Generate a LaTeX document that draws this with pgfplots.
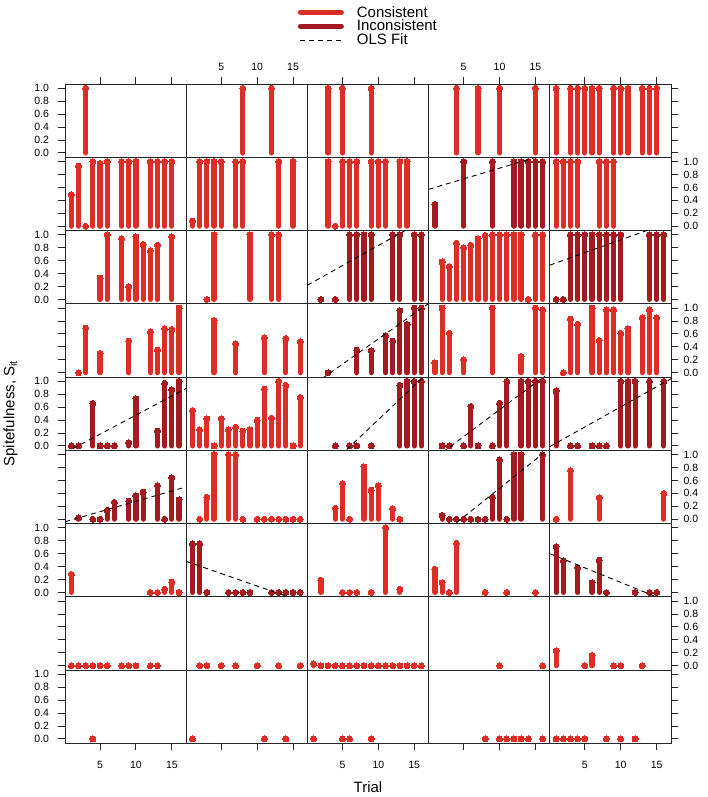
\documentclass[border=0pt]{standalone}
\usepackage{fontspec}
\setmainfont{Liberation Sans}
\usepackage{pgfplots}
\pgfplotsset{compat=1.18}
\definecolor{cons}{RGB}{222,45,38}
\definecolor{incons}{RGB}{163,26,32}
\def\cA{65}\def\cB{186.2}\def\cC{307.4}\def\cD{428.6}\def\cE{549.8}
\def\rA{639.75}\def\rB{566.5}\def\rC{493.25}\def\rD{420}\def\rE{346.75}\def\rF{273.5}\def\rG{200.25}\def\rH{127}\def\rI{53.75}
\pgfplotsset{
  panel/.style={scale only axis, width=121.2pt, height=73.25pt, anchor=south west,
    xmin=0.12, xmax=17, ymin=-0.0667, ymax=1.0667, xtick=\empty, ytick=\empty,
    axis line style={draw=black!85, line width=0.9pt},
    tick style={draw=black!85, line width=0.9pt}, major tick length=7pt, tick align=outside,
    ticklabel style={font=\fontsize{10.5}{12}\selectfont},
    /pgf/number format/assume math mode=true, clip mode=individual},
  xT/.style={xtick={5,10,15}, xtick pos=right, xticklabel pos=right, xticklabel style={yshift=3pt}},
  xt/.style={xtick={5,10,15}, xtick pos=right, xticklabels={}},
  xB/.style={xtick={5,10,15}, xtick pos=left, xticklabel pos=left, xticklabel style={yshift=-7.5pt}},
  xb/.style={xtick={5,10,15}, xtick pos=left, xticklabels={}},
  yL/.style={ytick={0,0.2,0.4,0.6,0.8,1}, ytick pos=left, yticklabel pos=left,
    yticklabel style={xshift=-5.5pt, /pgf/number format/fixed, /pgf/number format/fixed zerofill, /pgf/number format/precision=1}},
  yl/.style={ytick={0,0.2,0.4,0.6,0.8,1}, ytick pos=left, yticklabels={}},
  yR/.style={ytick={0,0.2,0.4,0.6,0.8,1}, ytick pos=right, yticklabel pos=right,
    yticklabel style={xshift=2pt, /pgf/number format/fixed, /pgf/number format/fixed zerofill, /pgf/number format/precision=1}},
  yr/.style={ytick={0,0.2,0.4,0.6,0.8,1}, ytick pos=right, yticklabels={}},
  C/.style={ycomb, color=cons, line width=5.2pt, line cap=round, mark=*, mark size=3pt, mark options={line width=0pt, fill=cons}},
  I/.style={ycomb, color=incons, line width=5.2pt, line cap=round, mark=*, mark size=3pt, mark options={line width=0pt, fill=incons}},
  O/.style={black, no marks, line width=0.9pt, dash pattern=on 5pt off 4pt},
}
\newcommand\pan[3]{\begin{axis}[panel, at={(#1pt,#2pt)}, #3]}
\begin{document}
\begin{tikzpicture}
\useasboundingbox (0,0) rectangle (707pt,797pt);
% ---------------- Row 1
\pan{\cA}{\rA}{xt,yL}
\addplot[C] coordinates {(3,1)};
\end{axis}
\pan{\cB}{\rA}{xT}
\addplot[C] coordinates {(8,1)(12,1)};
\end{axis}
\pan{\cC}{\rA}{xt, legend image code/.code={\draw[#1] (0pt,0pt) -- (41pt,0pt); \path (52pt,0pt);},
  legend style={at={(axis description cs:-0.105,2.12)}, anchor=north west, draw=none, fill=none,
  font=\fontsize{15}{15}\selectfont, cells={anchor=west}, row sep=-2.5pt}}
\addlegendimage{cons, line width=5pt, line cap=round}
\addlegendentry{Consistent}
\addlegendimage{incons, line width=5pt, line cap=round}
\addlegendentry{Inconsistent}
\addlegendimage{black, line width=0.9pt, dash pattern=on 5pt off 4pt}
\addlegendentry{OLS Fit}
\addplot[C, forget plot] coordinates {(3,1)(5,1)(9,1)};
\end{axis}
\pan{\cD}{\rA}{xT}
\addplot[C] coordinates {(4,1)(7,1)(10,1)(15,1)};
\end{axis}
\pan{\cE}{\rA}{xt,yr}
\addplot[C] coordinates {(1,1)(3,1)(4,1)(5,1)(6,1)(7,1)(9,1)(10,1)(11,1)(13,1)(14,1)(15,1)};
\end{axis}
% ---------------- Row 2
\pan{\cA}{\rB}{yl}
\addplot[C] coordinates {(1,0.49)(2,0.93)(3,0)(4,1)(5,0.97)(6,1)(8,1)(9,1)(10,1)(12,1)(13,1)(14,1)(15,1)};
\end{axis}
\pan{\cB}{\rB}{}
\addplot[C] coordinates {(1,0.08)(2,1)(3,1)(4,1)(5,1)(7,1)(8,1)(13,1)(15,1)};
\end{axis}
\pan{\cC}{\rB}{}
\addplot[C] coordinates {(3,1)(4,0)(5,1)(6,1)(7,1)(9,1)(10,1)(11,1)(13,1)(14,1)};
\end{axis}
\pan{\cD}{\rB}{}
\addplot[I] coordinates {(1,0.34)(5,1)(9,1)(12,1)(13,1)(14,1)(15,1)(16,1)};
\addplot[O] coordinates {(0.12,0.57)(17,1.13)};
\end{axis}
\pan{\cE}{\rB}{yR}
\addplot[C] coordinates {(1,1)(2,1)(3,1)(4,1)(7,1)(8,1)(9,1)};
\end{axis}
% ---------------- Row 3
\pan{\cA}{\rC}{yL}
\addplot[C] coordinates {(5,0.33)(6,1)(8,0.94)(9,0.2)(10,0.97)(11,0.85)(12,0.75)(13,0.84)(15,0.97)};
\end{axis}
\pan{\cB}{\rC}{}
\addplot[C] coordinates {(3,0)(4,1)(9,1)(12,1)(13,1)};
\end{axis}
\pan{\cC}{\rC}{}
\addplot[I] coordinates {(2,0)(4,0)(6,1)(7,1)(8,1)(9,1)(12,1)(13,1)(15,1)(16,1)};
\addplot[O] coordinates {(0.12,0.22)(17,1.27)};
\end{axis}
\pan{\cD}{\rC}{}
\addplot[C] coordinates {(2,0.58)(3,0.51)(4,0.87)(5,0.80)(6,0.84)(7,0.94)(8,0.99)(9,1)(10,1)(11,1)(12,1)(13,1)(14,0)(15,1)(16,1)};
\end{axis}
\pan{\cE}{\rC}{yr}
\addplot[I] coordinates {(1,0)(2,0)(3,1)(4,1)(5,1)(6,1)(7,1)(8,1)(9,1)(10,1)(14,1)(15,1)(16,1)};
\addplot[O] coordinates {(0.12,0.53)(17,1.2)};
\end{axis}
% ---------------- Row 4
\pan{\cA}{\rD}{yl}
\addplot[C] coordinates {(2,0)(3,0.69)(5,0.30)(9,0.49)(12,0.63)(13,0.35)(14,0.68)(15,0.67)(16,1)};
\end{axis}
\pan{\cB}{\rD}{}
\addplot[C] coordinates {(4,0.81)(7,0.45)(11,0.54)(14,0.53)(16,0.48)};
\end{axis}
\pan{\cC}{\rD}{}
\addplot[I] coordinates {(3,0)(7,0.35)(9,0.34)(11,0.57)(12,0.49)(13,0.96)(14,0.75)(15,1)(16,1)};
\addplot[O] coordinates {(0.12,-0.25)(17,1.07)};
\end{axis}
\pan{\cD}{\rD}{}
\addplot[C] coordinates {(1,0.15)(2,1)(3,0.61)(5,0.20)(9,1)(13,0.25)(15,1)(16,0.97)};
\end{axis}
\pan{\cE}{\rD}{yR}
\addplot[C] coordinates {(2,0)(3,0.83)(4,0.75)(6,1)(7,0.50)(8,0.97)(9,0.97)(10,0.61)(11,0.68)(13,0.85)(14,0.97)(15,0.85)};
\end{axis}
% ---------------- Row 5
\pan{\cA}{\rE}{yL, ylabel={Spitefulness, S\textsubscript{it}},
  ylabel style={font=\fontsize{15}{18}\selectfont, at={(axis description cs:-0.45,0.5)}, anchor=center}}
\addplot[I] coordinates {(1,0)(2,0)(4,0.66)(5,0)(6,0)(7,0)(9,0.05)(10,0.73)(13,0.23)(14,0.97)(15,0.87)(16,1)};
\addplot[O] coordinates {(0.12,-0.106)(17,0.89)};
\end{axis}
\pan{\cB}{\rE}{}
\addplot[C] coordinates {(1,0.55)(2,0.25)(3,0.42)(4,0)(5,0.42)(6,0.25)(7,0.29)(8,0.23)(9,0.25)(10,0.40)(11,0.88)(12,0.43)(13,1)(14,0.94)(15,0)(16,0.75)};
\end{axis}
\pan{\cC}{\rE}{}
\addplot[I] coordinates {(4,0)(6,0)(7,0)(9,0)(13,0.94)(14,1)(15,1)(16,1)};
\addplot[O] coordinates {(0.12,-0.63)(17,1.14)};
\end{axis}
\pan{\cD}{\rE}{}
\addplot[I] coordinates {(2,0)(3,0)(5,0)(6,0.61)(7,0)(9,0)(10,0.66)(11,1)(13,1)(14,1)(15,1)(16,1)};
\addplot[O] coordinates {(0.12,-0.26)(17,1.14)};
\end{axis}
\pan{\cE}{\rE}{yr}
\addplot[I] coordinates {(1,0.85)(3,0)(4,0)(6,0)(7,0)(8,0)(10,1)(11,1)(12,1)(14,1)(16,1)};
\addplot[O] coordinates {(0.12,-0.01)(17,1.04)};
\end{axis}
% ---------------- Row 6
\pan{\cA}{\rF}{yl}
\addplot[I] coordinates {(2,0.02)(4,0)(5,0)(6,0.14)(7,0.26)(9,0.28)(10,0.36)(11,0.42)(13,0.52)(14,0)(15,0.64)(16,0.30)};
\addplot[O] coordinates {(0.12,-0.04)(17,0.50)};
\end{axis}
\pan{\cB}{\rF}{}
\addplot[C] coordinates {(2,0)(3,0.34)(4,1)(6,1)(7,1)(8,0)(10,0)(11,0)(12,0)(13,0)(14,0)(15,0)(16,0)};
\end{axis}
\pan{\cC}{\rF}{}
\addplot[C] coordinates {(4,0.17)(5,0.55)(6,0)(8,0.81)(9,0.45)(10,0.52)(12,0.16)(13,0)};
\end{axis}
\pan{\cD}{\rF}{}
\addplot[I] coordinates {(2,0.06)(3,0)(4,0)(5,0)(6,0)(7,0)(8,0)(9,0.34)(10,0.92)(11,0)(12,1)(13,1)(16,1)};
\addplot[O] coordinates {(0.12,-0.40)(17,1.10)};
\end{axis}
\pan{\cE}{\rF}{yR}
\addplot[C] coordinates {(1,0)(3,0.75)(7,0.33)(16,0.40)};
\end{axis}
% ---------------- Row 7
\pan{\cA}{\rG}{yL}
\addplot[C] coordinates {(1,0.28)(12,0)(13,0)(14,0.05)(15,0.16)(16,0)};
\end{axis}
\pan{\cB}{\rG}{}
\addplot[I] coordinates {(1,0.75)(2,0.75)(3,0)(6,0)(7,0)(8,0)(9,0)(12,0)(13,0)(14,0)(15,0)(16,0)};
\addplot[O] coordinates {(0.12,0.48)(17,-0.17)};
\end{axis}
\pan{\cC}{\rG}{}
\addplot[C] coordinates {(2,0.19)(5,0)(6,0)(7,0)(9,0)(11,1)(13,0.05)};
\end{axis}
\pan{\cD}{\rG}{}
\addplot[C] coordinates {(1,0.36)(2,0.15)(3,0)(4,0.76)(8,0)(11,0)(15,0)};
\end{axis}
\pan{\cE}{\rG}{yr}
\addplot[I] coordinates {(1,0.71)(2,0.49)(4,0.38)(6,0.15)(7,0.50)(8,0)(12,0)(14,0)(15,0)};
\addplot[O] coordinates {(0.12,0.60)(17,-0.16)};
\end{axis}
% ---------------- Row 8
\pan{\cA}{\rH}{yl}
\addplot[C] coordinates {(1,0)(2,0)(3,0)(4,0)(5,0)(6,0)(8,0)(9,0)(10,0)(12,0)(13,0)};
\end{axis}
\pan{\cB}{\rH}{}
\addplot[C] coordinates {(2,0)(3,0)(5,0)(7,0)(10,0)(13,0)(16,0)};
\end{axis}
\pan{\cC}{\rH}{}
\addplot[C] coordinates {(1,0.03)(2,0)(3,0)(4,0)(5,0)(6,0)(7,0)(8,0)(9,0)(10,0)(11,0)(12,0)(13,0)(14,0)(15,0)(16,0)};
\end{axis}
\pan{\cD}{\rH}{}
\addplot[C] coordinates {(10,0)(16,0)};
\end{axis}
\pan{\cE}{\rH}{yR}
\addplot[C] coordinates {(1,0.23)(5,0)(6,0.16)(9,0)(10,0)(13,0)};
\end{axis}
% ---------------- Row 9
\pan{\cA}{\rI}{xB,yL}
\addplot[C] coordinates {(4,0)};
\end{axis}
\pan{\cB}{\rI}{xb}
\addplot[C] coordinates {(1,0)(11,0)(14,0)};
\end{axis}
\pan{\cC}{\rI}{xB, xlabel={Trial}, xlabel style={font=\fontsize{15}{18}\selectfont, at={(axis description cs:0.5,-0.6)}, anchor=center}}
\addplot[C] coordinates {(1,0)(5,0)(6,0)(9,0)};
\end{axis}
\pan{\cD}{\rI}{xb}
\addplot[C] coordinates {(8,0)(10,0)(11,0)(12,0)(13,0)(14,0)(16,0)};
\end{axis}
\pan{\cE}{\rI}{xB,yr}
\addplot[C] coordinates {(1,0)(2,0)(3,0)(4,0)(5,0)(8,0)(10,0)(12,0)};
\end{axis}
\end{tikzpicture}
\end{document}
